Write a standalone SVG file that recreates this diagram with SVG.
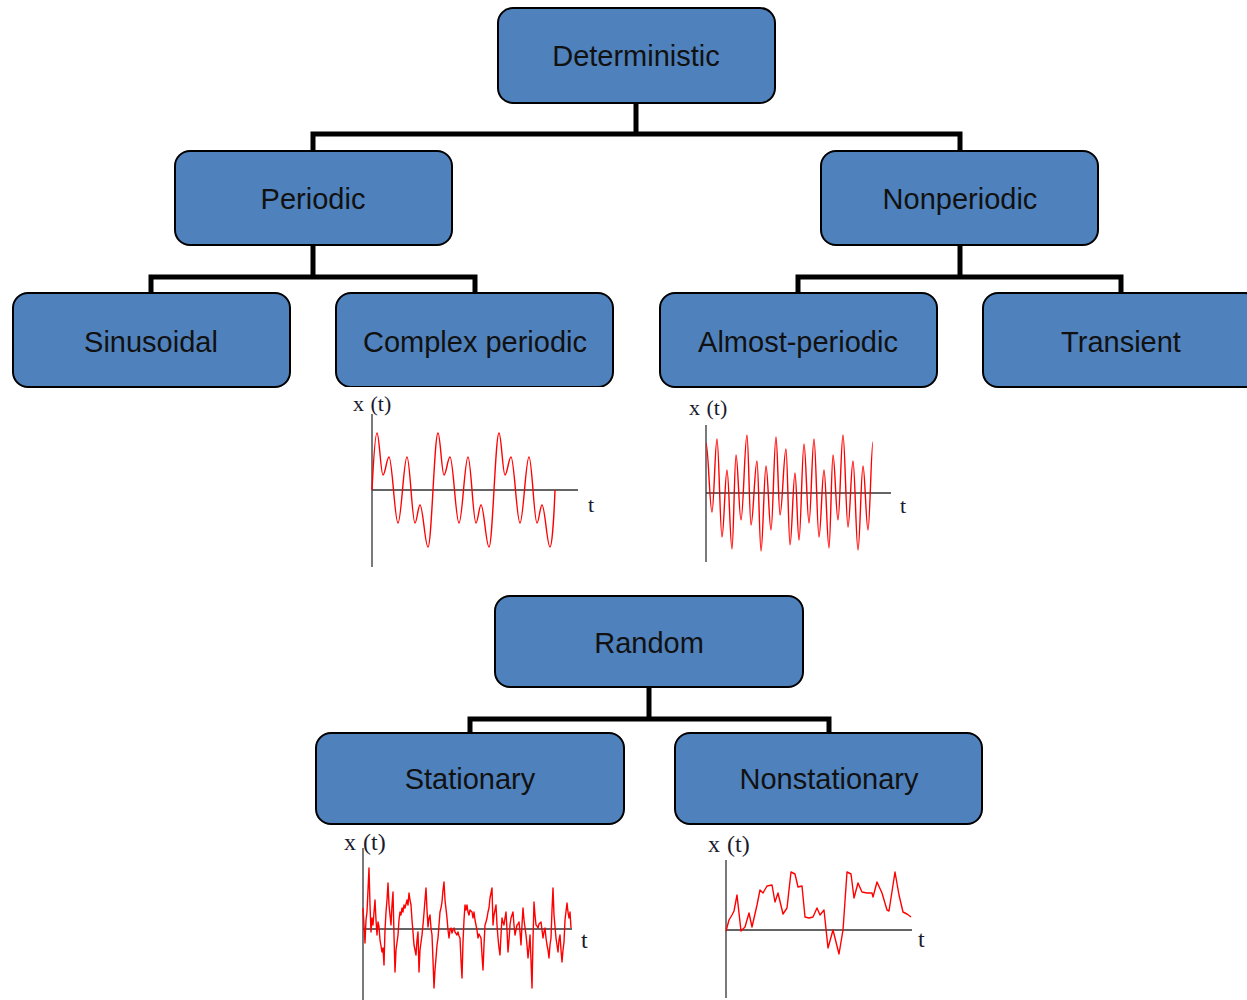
<svg xmlns="http://www.w3.org/2000/svg" width="1247" height="1000" viewBox="0 0 1247 1000">
<style>
.box{fill:#4F81BD;stroke:#000;stroke-width:2}
.lbl{font-family:"Liberation Sans",Arial,sans-serif;font-size:29px;fill:#111;text-anchor:middle}
.conn{fill:none;stroke:#000;stroke-width:5;stroke-linejoin:miter;stroke-linecap:square}
.axis{fill:none;stroke:#333;stroke-width:1.3}
.sig{fill:none;stroke:#f00;stroke-width:1.4;stroke-linejoin:round}
.ax{font-family:"Liberation Serif","Times New Roman",serif;font-size:22px;fill:#1a1a2e;word-spacing:1px}
.ax2{font-family:"Liberation Serif","Times New Roman",serif;font-size:24px;fill:#1a1a2e;word-spacing:1px}
</style>
<rect width="1247" height="1000" fill="#fff"/>
<g id="connectors">
<path class="conn" d="M636 103V134M313 151V134H960V151"/>
<path class="conn" d="M313 245V277M151 293V277H475V293"/>
<path class="conn" d="M960 245V277M798 293V277H1121V293"/>
<path class="conn" d="M649 687V719M470 733V719H829V733"/>
</g>
<g id="deterministic"><rect class="box" x="498" y="8" width="277" height="95" rx="15"/><text class="lbl" x="636" y="66">Deterministic</text></g>
<g id="periodic"><rect class="box" x="175" y="151" width="277" height="94" rx="15"/><text class="lbl" x="313" y="209">Periodic</text></g>
<g id="nonperiodic"><rect class="box" x="821" y="151" width="277" height="94" rx="15"/><text class="lbl" x="960" y="209">Nonperiodic</text></g>
<g id="sinusoidal"><rect class="box" x="13" y="293" width="277" height="94" rx="15"/><text class="lbl" x="151" y="352">Sinusoidal</text></g>
<g id="complex-periodic"><rect class="box" x="336" y="293" width="277" height="94" rx="15"/><text class="lbl" x="475" y="352">Complex periodic</text></g>
<g id="almost-periodic"><rect class="box" x="660" y="293" width="277" height="94" rx="15"/><text class="lbl" x="798" y="352">Almost-periodic</text></g>
<g id="transient"><rect class="box" x="983" y="293" width="277" height="94" rx="15"/><text class="lbl" x="1121" y="352">Transient</text></g>
<g id="random"><rect class="box" x="495" y="596" width="308" height="91" rx="15"/><text class="lbl" x="649" y="653">Random</text></g>
<g id="stationary"><rect class="box" x="316" y="733" width="308" height="91" rx="15"/><text class="lbl" x="470" y="789">Stationary</text></g>
<g id="nonstationary"><rect class="box" x="675" y="733" width="307" height="91" rx="15"/><text class="lbl" x="829" y="789">Nonstationary</text></g>

<g id="plot-complex-periodic">
<rect x="346" y="387" width="258" height="184" fill="#fff"/>
<text class="ax" x="353" y="411">x (t)</text>
<text class="ax" x="588" y="512">t</text>
<path class="axis" d="M372 414V567M372 490H578"/>
<path class="sig" d="M372 490C373 470 375 433 377 433
c2.2 0 3.8 42 6 42c2.2 0 3.8 -18 6 -18c3.2 0 5.8 66 9 66c3.2 0 5.8 -66 9 -66c2.9 0 5.1 66 8 66c1.8 0 3.2 -18 5 -18c2.9 0 5.1 42 8 42c3.6 0 6.4 -114 10 -114
c2.2 0 3.8 42 6 42c2.2 0 3.8 -18 6 -18c3.2 0 5.8 66 9 66c3.2 0 5.8 -66 9 -66c2.9 0 5.1 66 8 66c1.8 0 3.2 -18 5 -18c2.9 0 5.1 42 8 42c3.6 0 6.4 -114 10 -114
c2.2 0 3.8 42 6 42c2.2 0 3.8 -18 6 -18c3.2 0 5.8 66 9 66c3.2 0 5.8 -66 9 -66c2.9 0 5.1 66 8 66c1.8 0 3.2 -18 5 -18c2.9 0 5.1 42 8 42c2 0 4 -30 5 -57"/>
</g>

<g id="plot-almost-periodic">
<text class="ax" x="689" y="415">x (t)</text>
<text class="ax" x="900" y="513">t</text>
<path class="axis" d="M706 425V562M706 493H891"/>
<path class="sig" d="M706 443C708.2 443 709.8 512 712 512C713.8 512 715.2 439 717 439C718.8 439 720.2 537 722 537C723.8 537 725.2 470 727 470C728.8 470 730.2 549 732 549C733.4 549 734.6 455 736 455C737.8 455 739.2 520 741 520C743.2 520 744.8 435 747 435C748.4 435 749.6 525 751 525C753.2 525 754.8 461 757 461C758.4 461 759.6 551 761 551C762.8 551 764.2 466 766 466C767.8 466 769.2 530 771 530C772.8 530 774.2 437 776 437C777.4 437 778.6 515 780 515C782.2 515 783.8 449 786 449C787.4 449 788.6 545 790 545C791.8 545 793.2 473 795 473C796.4 473 797.6 540 799 540C800.8 540 802.2 444 804 444C805.8 444 807.2 523 809 523C810.8 523 812.2 439 814 439C815.8 439 817.2 537 819 537C820.8 537 822.2 470 824 470C825.8 470 827.2 548 829 548C830.4 548 831.6 455 833 455C834.8 455 836.2 520 838 520C839.8 520 841.2 435 843 435C844.8 435 846.2 527 848 527C849.8 527 851.2 461 853 461C854.8 461 856.2 550 858 550C859.8 550 861.2 466 863 466C864.8 466 866.2 530 868 530C869.8 530 871.2 442 873 442"/>
</g>

<g id="plot-stationary">
<text class="ax2" x="344" y="850">x (t)</text>
<text class="ax2" x="581" y="948">t</text>
<path class="axis" d="M363 848V1000M363 929H572"/>
<polyline class="sig" points="363,908 364,925 365,943 366,920 367,912 368,890 369,868 370,905 371,932 372,918 373,925 374,912 375,900 376,920 377,935 378,922 379,927 380,940 382,952 383,948 384,965 385,930 386,912 387,900 388,883 389,905 391,925 392,905 393,892 394,935 395,972 396,950 398,935 399,920 400,912 401,915 402,908 403,912 404,905 405,908 407,900 408,905 409,893 410,900 411,905 412,920 413,932 414,945 416,955 417,940 418,932 419,972 420,950 422,935 423,925 424,913 425,900 426,888 427,910 428,927 429,918 430,915 431,928 432,935 433,960 434,988 435,970 436,958 437,945 438,938 439,925 440,912 441,908 442,902 443,890 444,882 445,900 447,918 448,930 449,938 450,930 451,928 452,933 453,930 454,928 455,932 457,935 458,932 459,936 460,938 461,960 462,978 463,942 464,920 465,905 466,910 467,905 468,912 469,915 470,910 472,912 473,918 474,912 475,920 476,925 477,930 478,938 479,934 481,938 482,955 483,970 484,945 485,925 486,922 487,918 488,912 489,908 490,898 492,888 493,925 494,915 496,905 497,925 498,938 499,948 500,955 501,935 502,918 503,922 504,925 505,918 506,912 507,930 508,952 509,940 510,925 511,918 513,912 514,925 515,935 516,930 517,925 518,924 519,922 520,932 521,945 522,925 523,908 524,920 526,935 527,945 528,958 529,948 530,935 531,960 532,988 533,940 534,902 535,915 536,925 537,926 538,928 539,924 541,922 542,930 543,938 544,932 545,928 546,938 547,945 548,950 549,958 550,945 551,938 552,910 553,888 554,915 556,938 557,945 558,952 559,940 560,935 561,950 562,962 563,950 564,942 565,920 567,903 568,912 569,918 570,912 571,928"/>
</g>

<g id="plot-nonstationary">
<text class="ax2" x="708" y="852">x (t)</text>
<text class="ax2" x="918" y="947">t</text>
<path class="axis" d="M726 860V998M726 930H912"/>
<polyline class="sig" points="726,931 729,920 732,915 734,911 737,895 741,931 745,927 749,913 752,927 757,905 760,890 763,893 767,886 772,885 775,902 778,893 783,914 787,908 791,872 795,874 798,887 802,886 805,917 809,918 813,917 817,908 820,915 824,910 828,948 833,930 839,954 843,930 847,872 851,874 854,898 858,883 862,892 867,893 872,893 873,897 877,882 882,893 887,910 889,911 895,872 899,895 903,912 907,914 911,917"/>
</g>
</svg>
